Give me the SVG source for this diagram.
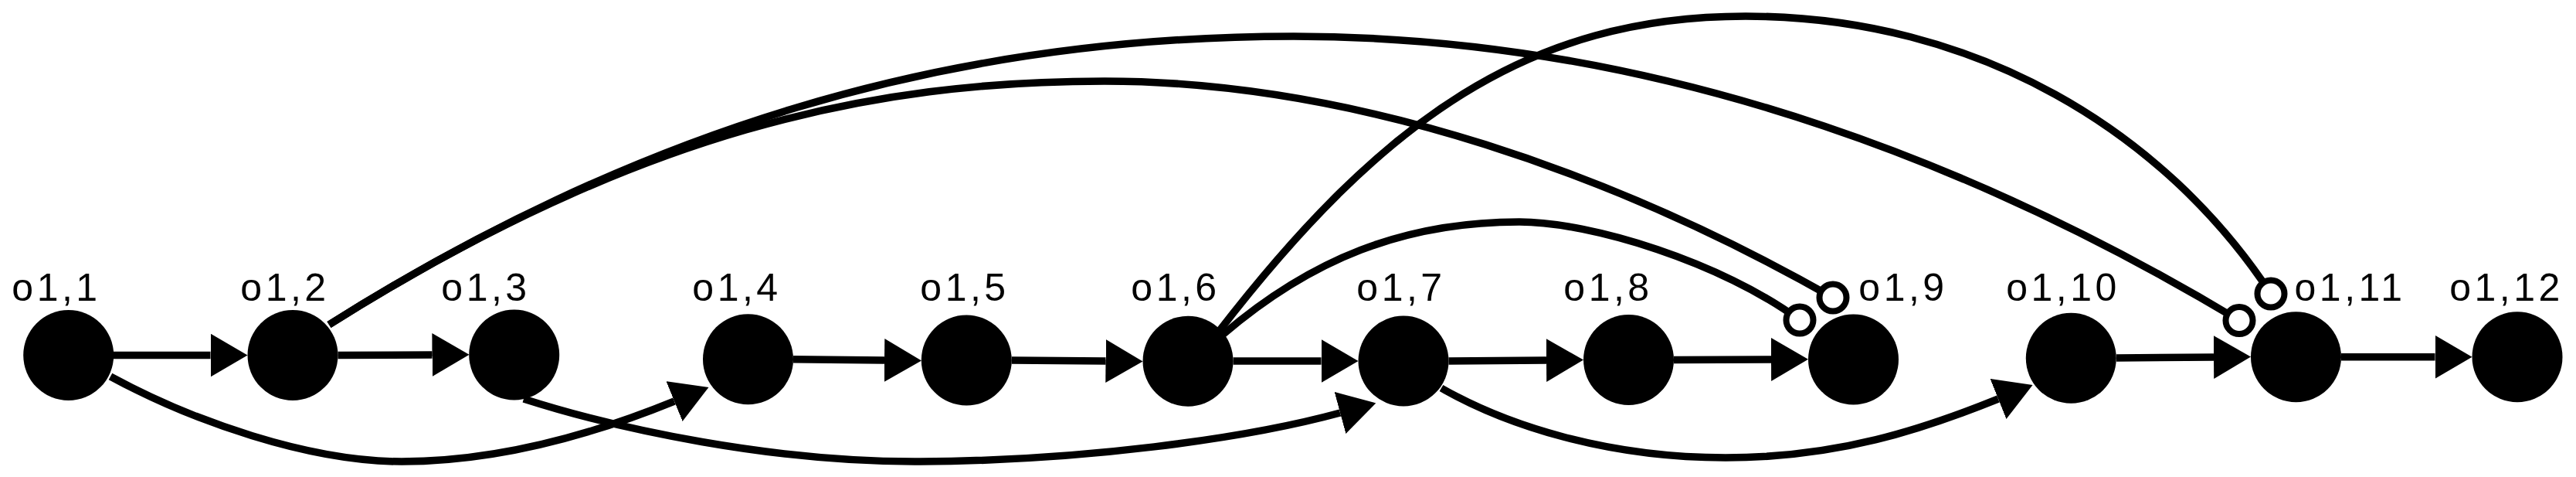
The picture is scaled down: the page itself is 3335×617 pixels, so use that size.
<svg xmlns="http://www.w3.org/2000/svg" width="3335" height="617" viewBox="0 0 3335 617">
  <style>
    .edge { fill: none; stroke: #000; stroke-width: 9.5; }
    .arr { marker-end: url(#arrow); }
    .odot { fill: #fff; stroke: #000; stroke-width: 8; }
    .node { fill: #000; }
    .lbl { font-family: "Liberation Sans", Arial, Helvetica, sans-serif; font-size: 50px; letter-spacing: 4.5px; text-anchor: middle; fill: #000; }
  </style>
  <defs>
    <marker id="arrow" markerUnits="userSpaceOnUse" viewBox="0 0 48 56" refX="0" refY="28" markerWidth="48" markerHeight="56" orient="auto">
      <path d="M0,0 L48,28 L0,56 Z" fill="#000"/>
    </marker>
  </defs>
  <rect width="3335" height="617" fill="#fff"/>
  <g id="edges">
    <path class="edge arr" d="M147,459.5 L272.5,459.5"/>
    <path class="edge arr" d="M437.5,459.5 L559.5,459"/>
    <path class="edge arr" d="M1027,464.7 L1145,466"/>
    <path class="edge arr" d="M1309.8,466 L1431.5,467"/>
    <path class="edge arr" d="M1596.5,467 L1710.5,467"/>
    <path class="edge arr" d="M1875.5,467 L2002,466"/>
    <path class="edge arr" d="M2167,465.5 L2293,465"/>
    <path class="edge arr" d="M2740,463 L2866,462"/>
    <path class="edge arr" d="M3031,461.7 L3152.5,461.7"/>
    <path class="edge arr" d="M143,487 C250,545 400,597 520,597 C640,597 760,565 873,519"/>
    <path class="edge arr" d="M678,516 C800,555 1000,598 1191,597 C1400,596 1610,568 1735,534"/>
    <path class="edge arr" d="M1866,502 C1950,550 2080,592 2234,592 C2380,592 2490,555 2587,516"/>
    <path class="edge" d="M426,420 C826,168 1130,105 1430,105 C1760,105 2100,230 2373,385"/>
    <path class="edge" d="M426,420 C826,168 1225,47 1675,47 C2175,47 2599,234.5 2899,414.5"/>
    <path class="edge" d="M1583,433 C1697,335.5 1817,287 1967,287 C2060,287 2230,340 2330,414"/>
    <path class="edge" d="M1577,430 C1790.5,153.5 1980,21 2260,21 C2560,21 2802.5,171.25 2940,380"/>
    <circle class="odot" cx="2373" cy="385" r="17.5"/>
    <circle class="odot" cx="2330" cy="414" r="17.5"/>
    <circle class="odot" cx="2940" cy="380" r="17.5"/>
    <circle class="odot" cx="2899" cy="414.5" r="17.5"/>
  </g>
  <g id="n1"><circle class="node" cx="88.7" cy="459.5" r="58.5"/><text class="lbl" x="73" y="389">o1,1</text></g>
  <g id="n2"><circle class="node" cx="379" cy="459.5" r="58.5"/><text class="lbl" x="369" y="389">o1,2</text></g>
  <g id="n3"><circle class="node" cx="665.7" cy="459" r="58.5"/><text class="lbl" x="629" y="389">o1,3</text></g>
  <g id="n4"><circle class="node" cx="968.5" cy="464.7" r="58.5"/><text class="lbl" x="954" y="389">o1,4</text></g>
  <g id="n5"><circle class="node" cx="1251.3" cy="466" r="58.5"/><text class="lbl" x="1249" y="389">o1,5</text></g>
  <g id="n6"><circle class="node" cx="1538" cy="467.2" r="58.5"/><text class="lbl" x="1522" y="389">o1,6</text></g>
  <g id="n7"><circle class="node" cx="1817" cy="467" r="58.5"/><text class="lbl" x="1814" y="389">o1,7</text></g>
  <g id="n8"><circle class="node" cx="2108.5" cy="465.5" r="58.5"/><text class="lbl" x="2082" y="389">o1,8</text></g>
  <g id="n9"><circle class="node" cx="2399.5" cy="465" r="58.5"/><text class="lbl" x="2464" y="389">o1,9</text></g>
  <g id="n10"><circle class="node" cx="2681.3" cy="463.3" r="58.5"/><text class="lbl" x="2671" y="389">o1,10</text></g>
  <g id="n11"><circle class="node" cx="2972.5" cy="461.7" r="58.5"/><text class="lbl" x="3042.5" y="389">o1,11</text></g>
  <g id="n12"><circle class="node" cx="3259" cy="461.7" r="58.5"/><text class="lbl" x="3245" y="389">o1,12</text></g>
</svg>
